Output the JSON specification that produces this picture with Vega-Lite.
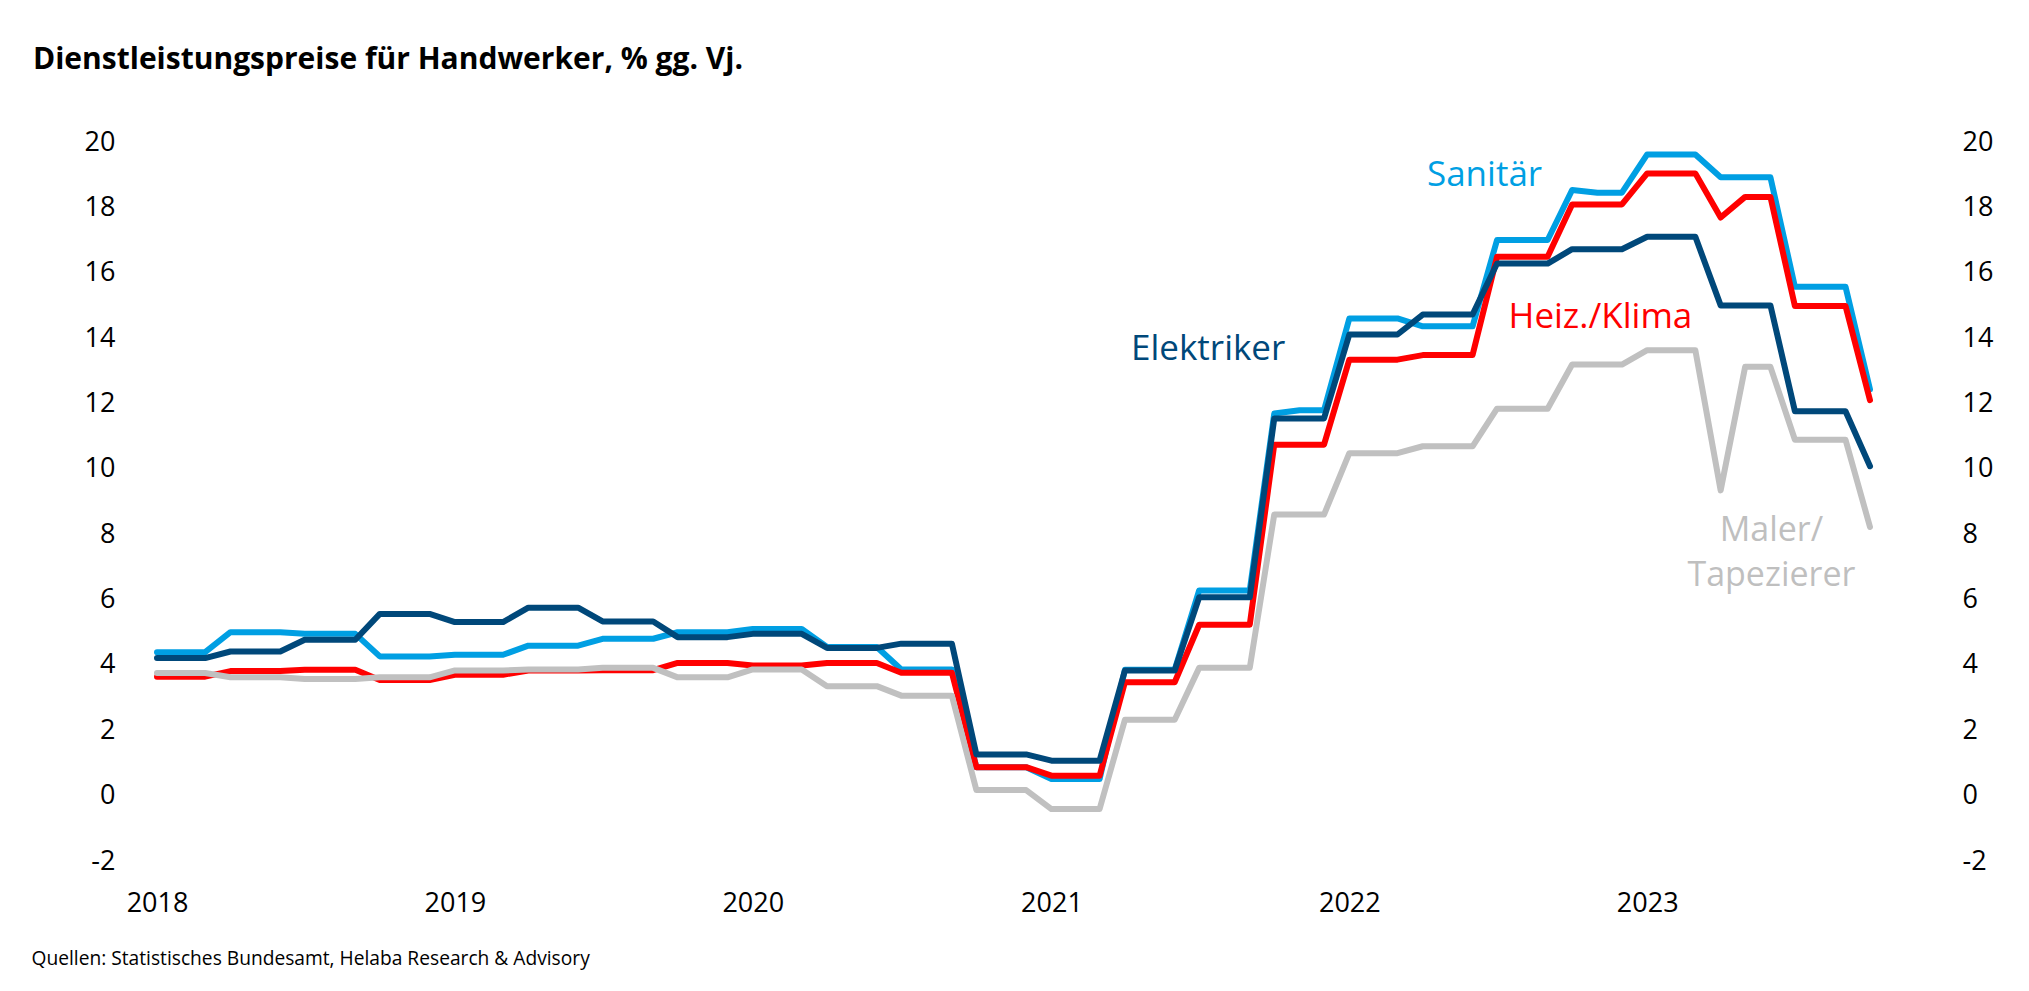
{
  "$schema": "https://vega.github.io/schema/vega-lite/v6.json",
  "width": 1713,
  "height": 719,
  "autosize": {"type": "none"},
  "padding": {"left": 157, "top": 142, "right": 159, "bottom": 130},
  "background": "white",
  "config": {"view": {"stroke": null}, "font": "Open Sans"},
  "title": {
    "text": "Dienstleistungspreise für Handwerker, % gg. Vj.",
    "anchor": "start",
    "frame": "group",
    "dx": -124,
    "offset": 38,
    "fontSize": 30,
    "fontWeight": "bold",
    "color": "#000000",
    "font": "Open Sans",
    "baseline": "middle"
  },
  "data": {
    "values": [
      {"d": "2018-01-01", "sanitaer": 4.39, "elektriker": 4.21, "heizklima": 3.64, "maler": 3.75},
      {"d": "2018-02-01", "sanitaer": 4.39, "elektriker": 4.21, "heizklima": 3.64, "maler": 3.75},
      {"d": "2018-03-01", "sanitaer": 4.39, "elektriker": 4.21, "heizklima": 3.64, "maler": 3.75},
      {"d": "2018-04-01", "sanitaer": 5.0, "elektriker": 4.41, "heizklima": 3.81, "maler": 3.62},
      {"d": "2018-05-01", "sanitaer": 5.0, "elektriker": 4.41, "heizklima": 3.81, "maler": 3.62},
      {"d": "2018-06-01", "sanitaer": 5.0, "elektriker": 4.41, "heizklima": 3.81, "maler": 3.62},
      {"d": "2018-07-01", "sanitaer": 4.95, "elektriker": 4.77, "heizklima": 3.85, "maler": 3.57},
      {"d": "2018-08-01", "sanitaer": 4.95, "elektriker": 4.77, "heizklima": 3.85, "maler": 3.57},
      {"d": "2018-09-01", "sanitaer": 4.95, "elektriker": 4.77, "heizklima": 3.85, "maler": 3.57},
      {"d": "2018-10-01", "sanitaer": 4.26, "elektriker": 5.56, "heizklima": 3.54, "maler": 3.62},
      {"d": "2018-11-01", "sanitaer": 4.26, "elektriker": 5.56, "heizklima": 3.54, "maler": 3.62},
      {"d": "2018-12-01", "sanitaer": 4.26, "elektriker": 5.56, "heizklima": 3.54, "maler": 3.62},
      {"d": "2019-01-01", "sanitaer": 4.31, "elektriker": 5.31, "heizklima": 3.7, "maler": 3.83},
      {"d": "2019-02-01", "sanitaer": 4.31, "elektriker": 5.31, "heizklima": 3.7, "maler": 3.83},
      {"d": "2019-03-01", "sanitaer": 4.31, "elektriker": 5.31, "heizklima": 3.7, "maler": 3.83},
      {"d": "2019-04-01", "sanitaer": 4.59, "elektriker": 5.75, "heizklima": 3.83, "maler": 3.86},
      {"d": "2019-05-01", "sanitaer": 4.59, "elektriker": 5.75, "heizklima": 3.83, "maler": 3.86},
      {"d": "2019-06-01", "sanitaer": 4.59, "elektriker": 5.75, "heizklima": 3.83, "maler": 3.86},
      {"d": "2019-07-01", "sanitaer": 4.8, "elektriker": 5.33, "heizklima": 3.84, "maler": 3.91},
      {"d": "2019-08-01", "sanitaer": 4.8, "elektriker": 5.33, "heizklima": 3.84, "maler": 3.91},
      {"d": "2019-09-01", "sanitaer": 4.8, "elektriker": 5.33, "heizklima": 3.84, "maler": 3.91},
      {"d": "2019-10-01", "sanitaer": 5.0, "elektriker": 4.85, "heizklima": 4.06, "maler": 3.62},
      {"d": "2019-11-01", "sanitaer": 5.0, "elektriker": 4.85, "heizklima": 4.06, "maler": 3.62},
      {"d": "2019-12-01", "sanitaer": 5.0, "elektriker": 4.85, "heizklima": 4.06, "maler": 3.62},
      {"d": "2020-01-01", "sanitaer": 5.1, "elektriker": 4.95, "heizklima": 3.98, "maler": 3.86},
      {"d": "2020-02-01", "sanitaer": 5.1, "elektriker": 4.95, "heizklima": 3.98, "maler": 3.86},
      {"d": "2020-03-01", "sanitaer": 5.1, "elektriker": 4.95, "heizklima": 3.98, "maler": 3.86},
      {"d": "2020-04-01", "sanitaer": 4.55, "elektriker": 4.52, "heizklima": 4.06, "maler": 3.35},
      {"d": "2020-05-01", "sanitaer": 4.55, "elektriker": 4.52, "heizklima": 4.06, "maler": 3.35},
      {"d": "2020-06-01", "sanitaer": 4.55, "elektriker": 4.52, "heizklima": 4.06, "maler": 3.35},
      {"d": "2020-07-01", "sanitaer": 3.86, "elektriker": 4.65, "heizklima": 3.76, "maler": 3.06},
      {"d": "2020-08-01", "sanitaer": 3.86, "elektriker": 4.65, "heizklima": 3.76, "maler": 3.06},
      {"d": "2020-09-01", "sanitaer": 3.86, "elektriker": 4.65, "heizklima": 3.76, "maler": 3.06},
      {"d": "2020-10-01", "sanitaer": 0.87, "elektriker": 1.26, "heizklima": 0.87, "maler": 0.17},
      {"d": "2020-11-01", "sanitaer": 0.87, "elektriker": 1.26, "heizklima": 0.87, "maler": 0.17},
      {"d": "2020-12-01", "sanitaer": 0.87, "elektriker": 1.26, "heizklima": 0.87, "maler": 0.17},
      {"d": "2021-01-01", "sanitaer": 0.51, "elektriker": 1.07, "heizklima": 0.61, "maler": -0.41},
      {"d": "2021-02-01", "sanitaer": 0.51, "elektriker": 1.07, "heizklima": 0.61, "maler": -0.41},
      {"d": "2021-03-01", "sanitaer": 0.51, "elektriker": 1.07, "heizklima": 0.61, "maler": -0.41},
      {"d": "2021-04-01", "sanitaer": 3.85, "elektriker": 3.83, "heizklima": 3.47, "maler": 2.32},
      {"d": "2021-05-01", "sanitaer": 3.85, "elektriker": 3.83, "heizklima": 3.47, "maler": 2.32},
      {"d": "2021-06-01", "sanitaer": 3.85, "elektriker": 3.83, "heizklima": 3.47, "maler": 2.32},
      {"d": "2021-07-01", "sanitaer": 6.28, "elektriker": 6.07, "heizklima": 5.23, "maler": 3.91},
      {"d": "2021-08-01", "sanitaer": 6.28, "elektriker": 6.07, "heizklima": 5.23, "maler": 3.91},
      {"d": "2021-09-01", "sanitaer": 6.28, "elektriker": 6.07, "heizklima": 5.23, "maler": 3.91},
      {"d": "2021-10-01", "sanitaer": 11.69, "elektriker": 11.54, "heizklima": 10.74, "maler": 8.6},
      {"d": "2021-11-01", "sanitaer": 11.79, "elektriker": 11.54, "heizklima": 10.74, "maler": 8.6},
      {"d": "2021-12-01", "sanitaer": 11.79, "elektriker": 11.54, "heizklima": 10.74, "maler": 8.6},
      {"d": "2022-01-01", "sanitaer": 14.6, "elektriker": 14.11, "heizklima": 13.34, "maler": 10.48},
      {"d": "2022-02-01", "sanitaer": 14.6, "elektriker": 14.11, "heizklima": 13.34, "maler": 10.48},
      {"d": "2022-03-01", "sanitaer": 14.6, "elektriker": 14.11, "heizklima": 13.34, "maler": 10.48},
      {"d": "2022-04-01", "sanitaer": 14.36, "elektriker": 14.72, "heizklima": 13.48, "maler": 10.69},
      {"d": "2022-05-01", "sanitaer": 14.36, "elektriker": 14.72, "heizklima": 13.48, "maler": 10.69},
      {"d": "2022-06-01", "sanitaer": 14.36, "elektriker": 14.72, "heizklima": 13.48, "maler": 10.69},
      {"d": "2022-07-01", "sanitaer": 17.0, "elektriker": 16.28, "heizklima": 16.49, "maler": 11.84},
      {"d": "2022-08-01", "sanitaer": 17.0, "elektriker": 16.28, "heizklima": 16.49, "maler": 11.84},
      {"d": "2022-09-01", "sanitaer": 17.0, "elektriker": 16.28, "heizklima": 16.49, "maler": 11.84},
      {"d": "2022-10-01", "sanitaer": 18.53, "elektriker": 16.72, "heizklima": 18.09, "maler": 13.19},
      {"d": "2022-11-01", "sanitaer": 18.45, "elektriker": 16.72, "heizklima": 18.09, "maler": 13.19},
      {"d": "2022-12-01", "sanitaer": 18.45, "elektriker": 16.72, "heizklima": 18.09, "maler": 13.19},
      {"d": "2023-01-01", "sanitaer": 19.62, "elektriker": 17.1, "heizklima": 19.04, "maler": 13.63},
      {"d": "2023-02-01", "sanitaer": 19.62, "elektriker": 17.1, "heizklima": 19.04, "maler": 13.63},
      {"d": "2023-03-01", "sanitaer": 19.62, "elektriker": 17.1, "heizklima": 19.04, "maler": 13.63},
      {"d": "2023-04-01", "sanitaer": 18.92, "elektriker": 15.0, "heizklima": 17.69, "maler": 9.34},
      {"d": "2023-05-01", "sanitaer": 18.92, "elektriker": 15.0, "heizklima": 18.32, "maler": 13.12},
      {"d": "2023-06-01", "sanitaer": 18.92, "elektriker": 15.0, "heizklima": 18.32, "maler": 13.12},
      {"d": "2023-07-01", "sanitaer": 15.57, "elektriker": 11.76, "heizklima": 14.98, "maler": 10.89},
      {"d": "2023-08-01", "sanitaer": 15.57, "elektriker": 11.76, "heizklima": 14.98, "maler": 10.89},
      {"d": "2023-09-01", "sanitaer": 15.57, "elektriker": 11.76, "heizklima": 14.98, "maler": 10.89},
      {"d": "2023-10-01", "sanitaer": 12.43, "elektriker": 10.08, "heizklima": 12.1, "maler": 8.22}
    ]
  },
  "encoding": {
    "x": {
      "field": "d",
      "type": "temporal",
      "scale": {
        "type": "utc",
        "domain": [
          {"year": 2018, "month": 1, "date": 1, "utc": true},
          {"year": 2023, "month": 10, "date": 1, "utc": true}
        ]
      },
      "axis": {
        "orient": "bottom",
        "format": "%Y",
        "tickCount": {"interval": "year", "step": 1},
        "labelFlush": false,
        "labelOverlap": false,
        "grid": false,
        "domain": false,
        "ticks": false,
        "tickSize": 0,
        "labelPadding": 42,
        "labelBaseline": "middle",
        "labelFontSize": 27,
        "labelFont": "Open Sans",
        "labelColor": "#000000",
        "title": "Quellen: Statistisches Bundesamt, Helaba Research & Advisory",
        "titleX": -126,
        "titleY": 97,
        "titleAlign": "left",
        "titleBaseline": "middle",
        "titleFontSize": 19.2,
        "titleFontWeight": "normal",
        "titleFont": "Open Sans",
        "titleColor": "#000000"
      }
    }
  },
  "layer": [
    {
      "mark": {"type": "line", "color": "#009FE3", "strokeWidth": 6, "strokeJoin": "round", "strokeCap": "round"},
      "encoding": {
        "y": {
          "field": "sanitaer",
          "type": "quantitative",
          "scale": {"domain": [-2, 20], "nice": false, "zero": false},
          "axis": {
            "orient": "left",
            "values": [-2, 0, 2, 4, 6, 8, 10, 12, 14, 16, 18, 20],
            "labelExpr": "datum.value < 0 ? '-' + (-datum.value) : '' + datum.value",
            "grid": false,
            "domain": false,
            "ticks": false,
            "tickSize": 0,
            "labelPadding": 42,
            "labelFontSize": 27,
            "labelFont": "Open Sans",
            "labelColor": "#000000",
            "title": null
          }
        }
      }
    },
    {
      "mark": {"type": "line", "color": "#FF0000", "strokeWidth": 6, "strokeJoin": "round", "strokeCap": "round"},
      "encoding": {
        "y": {
          "field": "heizklima",
          "type": "quantitative",
          "scale": {"domain": [-2, 20], "nice": false, "zero": false},
          "axis": {
            "orient": "right",
            "values": [-2, 0, 2, 4, 6, 8, 10, 12, 14, 16, 18, 20],
            "labelExpr": "datum.value < 0 ? '-' + (-datum.value) : '' + datum.value",
            "grid": false,
            "domain": false,
            "ticks": false,
            "tickSize": 0,
            "labelPadding": 92,
            "labelFontSize": 27,
            "labelFont": "Open Sans",
            "labelColor": "#000000",
            "title": null
          }
        }
      }
    },
    {
      "mark": {"type": "line", "color": "#C0C0C0", "strokeWidth": 6, "strokeJoin": "round", "strokeCap": "round"},
      "encoding": {
        "y": {"field": "maler", "type": "quantitative", "scale": {"domain": [-2, 20], "nice": false, "zero": false}, "axis": null}
      }
    },
    {
      "mark": {"type": "line", "color": "#00487A", "strokeWidth": 6, "strokeJoin": "round", "strokeCap": "round"},
      "encoding": {
        "y": {"field": "elektriker", "type": "quantitative", "scale": {"domain": [-2, 20], "nice": false, "zero": false}, "axis": null}
      }
    },
    {
      "transform": [{"filter": "utcyear(datum.d) == 2022 && utcmonth(datum.d) == 5"}],
      "mark": {"type": "text", "fontSize": 35, "font": "Open Sans", "color": "#009FE3", "align": "center", "baseline": "middle", "dx": 12},
      "encoding": {
        "y": {"datum": 19.0, "type": "quantitative", "scale": {"domain": [-2, 20], "nice": false, "zero": false}, "axis": null},
        "text": {"value": "Sanitär"}
      }
    },
    {
      "transform": [{"filter": "utcyear(datum.d) == 2022 && utcmonth(datum.d) == 10"}],
      "mark": {"type": "text", "fontSize": 35, "font": "Open Sans", "color": "#FF0000", "align": "center", "baseline": "middle", "dx": 3},
      "encoding": {
        "y": {"datum": 14.64, "type": "quantitative", "scale": {"domain": [-2, 20], "nice": false, "zero": false}, "axis": null},
        "text": {"value": "Heiz./Klima"}
      }
    },
    {
      "transform": [{"filter": "utcyear(datum.d) == 2021 && utcmonth(datum.d) == 6"}],
      "mark": {"type": "text", "fontSize": 35, "font": "Open Sans", "color": "#00487A", "align": "center", "baseline": "middle", "dx": 9},
      "encoding": {
        "y": {"datum": 13.66, "type": "quantitative", "scale": {"domain": [-2, 20], "nice": false, "zero": false}, "axis": null},
        "text": {"value": "Elektriker"}
      }
    },
    {
      "transform": [{"filter": "utcyear(datum.d) == 2023 && utcmonth(datum.d) == 5"}],
      "mark": {"type": "text", "fontSize": 34, "font": "Open Sans", "color": "#BFBFBF", "align": "center", "baseline": "middle", "dx": 1},
      "encoding": {
        "y": {"datum": 8.1, "type": "quantitative", "scale": {"domain": [-2, 20], "nice": false, "zero": false}, "axis": null},
        "text": {"value": "Maler/"}
      }
    },
    {
      "transform": [{"filter": "utcyear(datum.d) == 2023 && utcmonth(datum.d) == 5"}],
      "mark": {"type": "text", "fontSize": 34, "font": "Open Sans", "color": "#BFBFBF", "align": "center", "baseline": "middle", "dx": 1},
      "encoding": {
        "y": {"datum": 6.72, "type": "quantitative", "scale": {"domain": [-2, 20], "nice": false, "zero": false}, "axis": null},
        "text": {"value": "Tapezierer"}
      }
    }
  ],
  "resolve": {"axis": {"y": "independent"}}
}
